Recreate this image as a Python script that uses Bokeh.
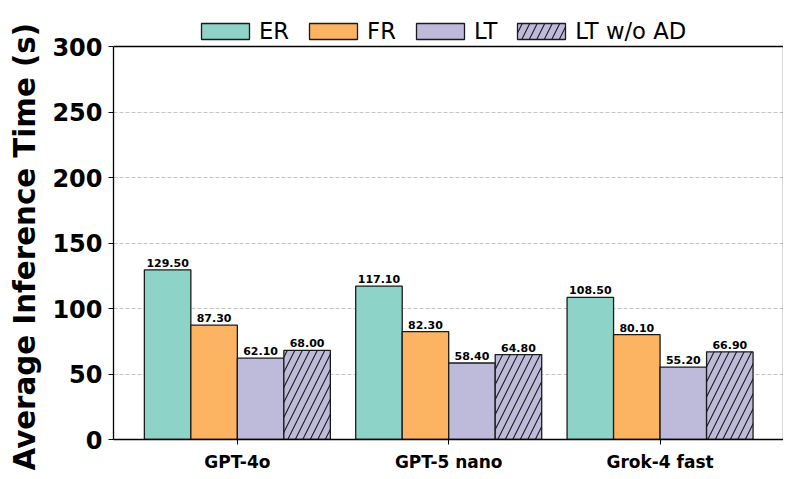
from bokeh.plotting import figure
from bokeh.models import (ColumnDataSource, Range1d, FixedTicker, Legend, LegendItem, LabelSet,
                          LinearAxis, Span, Title)
from bokeh.embed import file_html
from bokeh.resources import INLINE
from bokeh.core.properties import value

models = ["GPT-4o", "GPT-5 nano", "Grok-4 fast"]
series = ["ER", "FR", "LT", "LT w/o AD"]
er = [129.5, 117.1, 108.5]
fr = [87.3, 82.3, 80.1]
lt = [62.1, 58.4, 55.2]
lt_wo_ad = [68.0, 64.8, 66.9]
colors = ["#8dd3c7", "#fdb462", "#bebada", "#bebada"]
hatches = [None, None, None, "/"]
y_ticks = [0, 50, 100, 150, 200, 250, 300]

FONT = "DejaVu Sans"
bar_w = 0.22
offsets = [-1.5 * bar_w, -0.5 * bar_w, 0.5 * bar_w, 1.5 * bar_w]
all_vals = [er, fr, lt, lt_wo_ad]
group_x = list(range(len(models)))

# frame spans the full top area so the legend can sit inside it; the visible box ends at 300
FRAME_H = 439.0
BOX_H = 393.0
y_max = y_ticks[-1]
y_top = y_max * FRAME_H / BOX_H

p = figure(width=783, height=479, output_backend="svg", toolbar_location=None,
           x_range=Range1d(-0.586, 2.584), y_range=Range1d(0, y_top),
           min_border_right=0, min_border_top=0, min_border_bottom=40, min_border_left=113)
p.background_fill_color = "white"
p.border_fill_color = "white"
p.outline_line_color = None

items = []
for i, (name, vals) in enumerate(zip(series, all_vals)):
    xs = [g + offsets[i] for g in group_x]
    src = ColumnDataSource(dict(x=xs, top=vals, lab=["%.2f" % v for v in vals]))
    kw = dict(x="x", top="top", bottom=0, width=bar_w, source=src,
              fill_color=colors[i], line_color="#1a1a1a", line_width=1.3)
    if hatches[i]:
        kw.update(hatch_pattern=hatches[i], hatch_color="#1a1a1a", hatch_scale=15, hatch_weight=1.1)
    r = p.vbar(**kw)
    items.append(LegendItem(label=name, renderers=[r]))
    lbl = LabelSet(x="x", y="top", text="lab", source=src, text_align="center",
                   text_baseline="alphabetic", y_offset=3, text_font=value(FONT),
                   text_font_size="11px", text_font_style="bold", text_color="black")
    p.add_layout(lbl)

legend = Legend(items=items, orientation="horizontal", location=(80, 393),
                label_text_font=FONT, label_text_font_size="22.7px", label_text_color="black",
                glyph_width=60, glyph_height=20, label_standoff=4, spacing=14,
                padding=2, margin=0, border_line_alpha=0, background_fill_alpha=0)
p.add_layout(legend, "center")

# top spine of the box
p.add_layout(Span(location=y_max, dimension="width", line_color="black", line_width=1.3))

p.xaxis.ticker = FixedTicker(ticks=group_x)
p.xaxis.major_label_overrides = {g: m for g, m in zip(group_x, models)}
p.xaxis.major_label_text_font = FONT
p.xaxis.major_label_text_font_size = "17px"
p.xaxis.major_label_text_font_style = "bold"
p.xaxis.major_label_text_color = "black"
p.xaxis.minor_tick_line_color = None
p.xaxis.major_tick_out = 5
p.xaxis.major_tick_in = 0
p.xaxis.major_label_standoff = 7
p.xaxis.axis_line_color = "black"
p.xaxis.axis_line_width = 1.3
p.xaxis.major_tick_line_color = "black"

p.yaxis.bounds = (0, y_max)
p.yaxis.ticker = FixedTicker(ticks=y_ticks)
p.yaxis.major_label_text_font = FONT
p.yaxis.major_label_text_font_size = "24px"
p.yaxis.major_label_text_font_style = "bold"
p.yaxis.major_label_text_color = "black"
p.yaxis.minor_tick_line_color = None
p.yaxis.major_tick_out = 5
p.yaxis.major_tick_in = 0
p.yaxis.major_label_standoff = 6
p.yaxis.axis_line_color = "black"
p.yaxis.axis_line_width = 1.3
p.yaxis.major_tick_line_color = "black"

p.add_layout(Title(text="Average Inference Time (s)", align="left", offset=-31,
                   vertical_align="top",
                   text_font=FONT, text_font_size="29.3px", text_font_style="bold",
                   text_color="black", standoff=11), "left")

# right spine of the box
right = LinearAxis(bounds=(0, y_max), ticker=FixedTicker(ticks=[]),
                   major_tick_line_color=None, minor_tick_line_color=None,
                   major_label_text_font_size="0px", axis_line_color="black",
                   axis_line_width=1.3)
p.add_layout(right, "right")

p.xgrid.grid_line_color = None
p.ygrid.ticker = FixedTicker(ticks=y_ticks[1:-1])
p.ygrid.grid_line_color = "#b5b5b5"
p.ygrid.grid_line_dash = "4 2"
p.ygrid.grid_line_width = 0.8
p.ygrid.level = "underlay"

open("out.html", "w").write(file_html(p, INLINE))
